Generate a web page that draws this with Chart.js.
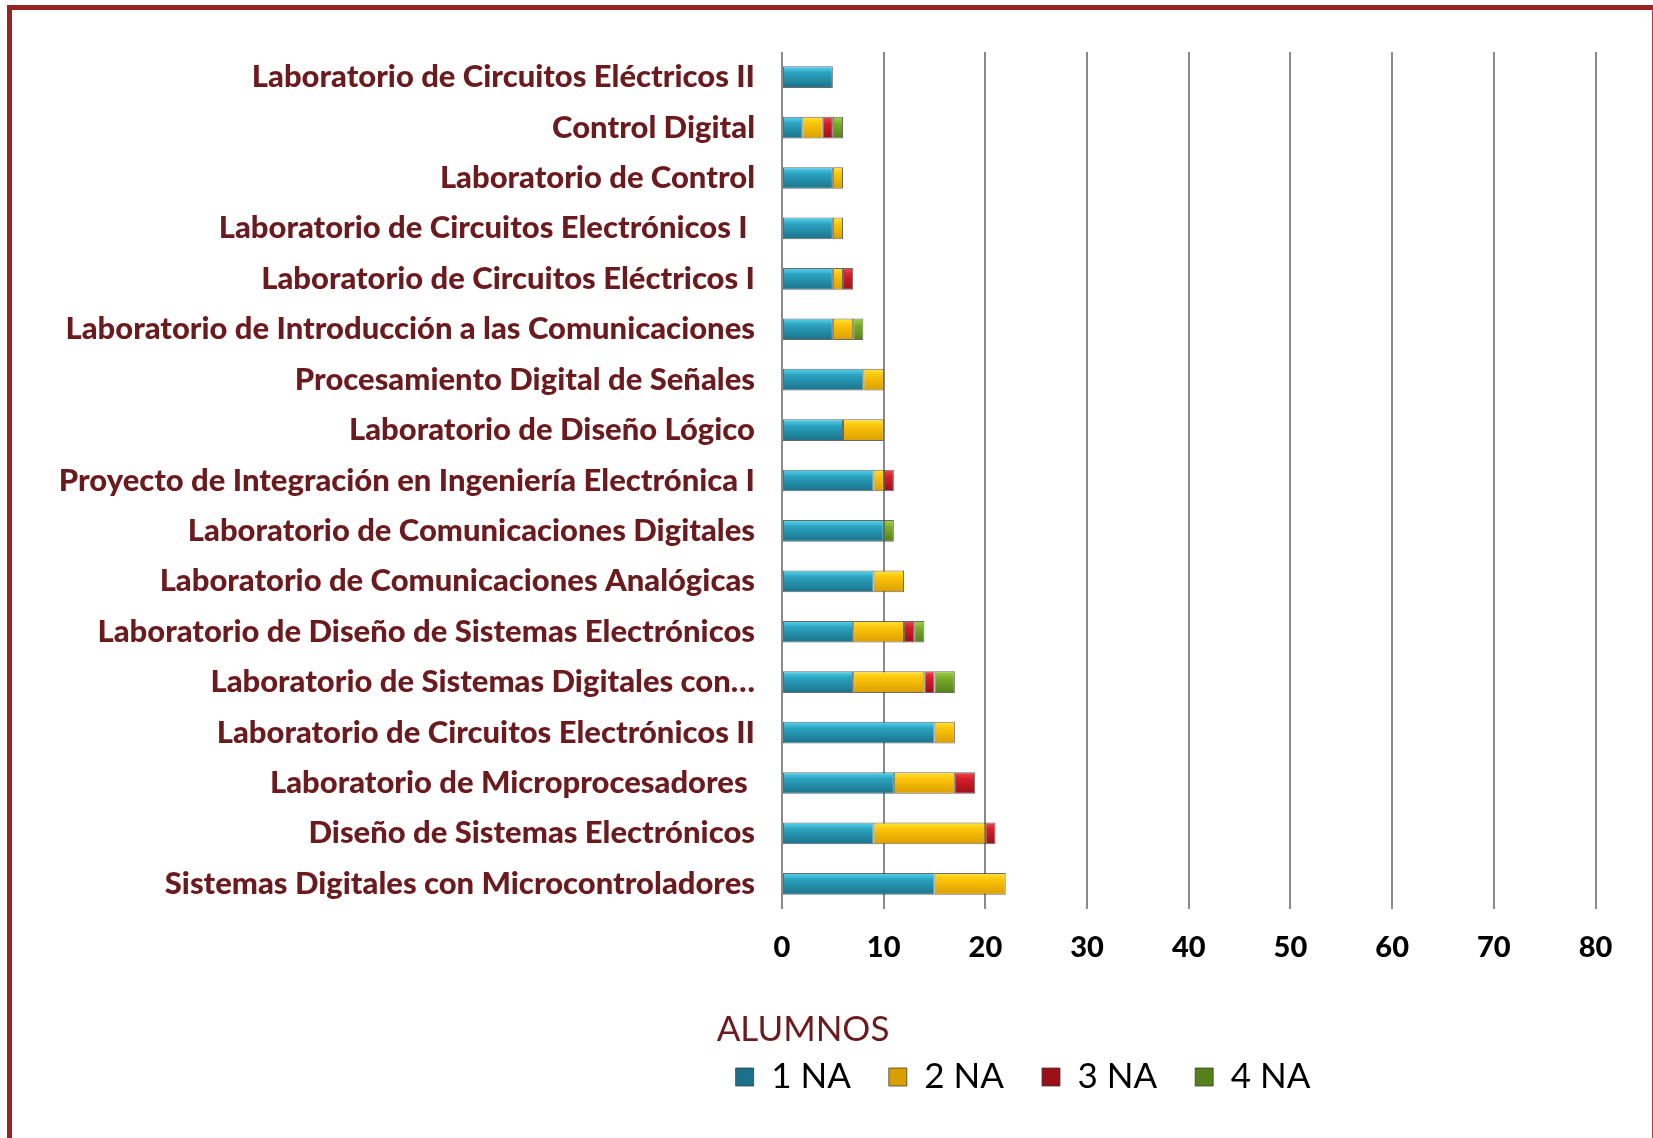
<!DOCTYPE html>
<html>
<head>
<meta charset="utf-8">
<script src="https://cdn.jsdelivr.net/npm/chart.js@4.4.0/dist/chart.umd.min.js"></script>
<style>
    html, body { margin: 0; padding: 0; background: #fff; overflow: hidden; }
    #frame {
        position: absolute; left: 7px; top: 5px;
        width: 1640px; height: 1200px;
        border-left: 5px solid #962427;
        border-top: 5px solid #962427;
        border-right: 1px solid #b33a3d;
    }
    #wrap { position: absolute; left: 0; top: 0; width: 1653px; height: 1138px; }
</style>
</head>
<body>
<div id="frame"></div>
<div id="wrap"><canvas id="alumnosChart" width="1653" height="1138"></canvas></div>
<script>
// Materias (top to bottom)
const materias = [
    'Laboratorio de Circuitos Eléctricos II',
    'Control Digital',
    'Laboratorio de Control',
    'Laboratorio de Circuitos Electrónicos I ',
    'Laboratorio de Circuitos Eléctricos I',
    'Laboratorio de Introducción a las Comunicaciones',
    'Procesamiento Digital de Señales',
    'Laboratorio de Diseño Lógico',
    'Proyecto de Integración en Ingeniería Electrónica I',
    'Laboratorio de Comunicaciones Digitales',
    'Laboratorio de Comunicaciones Analógicas',
    'Laboratorio de Diseño de Sistemas Electrónicos',
    'Laboratorio de Sistemas Digitales con…',
    'Laboratorio de Circuitos Electrónicos II',
    'Laboratorio de Microprocesadores ',
    'Diseño de Sistemas Electrónicos',
    'Sistemas Digitales con Microcontroladores'
];

// Alumnos por numero de NA
const na1 = [5, 2, 5, 5, 5, 5, 8, 6, 9, 10, 9, 7, 7, 15, 11, 9, 15];
const na2 = [0, 2, 1, 1, 1, 2, 2, 4, 1, 0, 3, 5, 7, 2, 6, 11, 7];
const na3 = [0, 1, 0, 0, 1, 0, 0, 0, 1, 0, 0, 1, 1, 0, 2, 1, 0];
const na4 = [0, 1, 0, 0, 0, 1, 0, 0, 0, 1, 0, 1, 2, 0, 0, 0, 0];

const seriesNames = ['1 NA', '2 NA', '3 NA', '4 NA'];
const xTicks = [0, 10, 20, 30, 40, 50, 60, 70, 80];

const MAROON = '#6b1a1e';
const BAR_PCT = 0.43;

Chart.defaults.font.family = 'Lato, "Open Sans", sans-serif';

// vertical gradient across each bar, like the bevelled office bars
function barFill(light, mid, dark) {
    return function (c) {
        const chart = c.chart;
        const y = chart.scales && chart.scales.y;
        if (!y || c.dataIndex === undefined || c.type !== 'data') return mid;
        const center = y.getPixelForValue(c.dataIndex);
        const h = (y.bottom - y.top) / materias.length * BAR_PCT;
        if (!isFinite(center) || !isFinite(h) || h <= 0) return mid;
        const g = chart.ctx.createLinearGradient(0, center - h / 2, 0, center + h / 2);
        g.addColorStop(0, light);
        g.addColorStop(0.3, mid);
        g.addColorStop(1, dark);
        return g;
    };
}

function serie(label, data, light, mid, dark) {
    return {
        label: label,
        data: data,
        backgroundColor: barFill(light, mid, dark),
        borderColor: 'rgba(55, 55, 55, 0.75)',
        borderWidth: 1,
        borderSkipped: false,
        barPercentage: BAR_PCT,
        categoryPercentage: 1
    };
}

// put the legend block where the original has it
const moveLegend = {
    id: 'moveLegend',
    afterLayout(chart) {
        const lg = chart.legend;
        const shift = 1023 - (lg.left + lg.right) / 2;
        lg.left += shift;
        lg.right += shift;
    }
};

const ctx = document.getElementById('alumnosChart').getContext('2d');
const alumnosChart = new Chart(ctx, {
    type: 'bar',
    data: {
        labels: materias,
        datasets: [
            serie(seriesNames[0], na1, '#5ad6f0', '#2aa3c0', '#1b7189'),
            serie(seriesNames[1], na2, '#ffe43c', '#fcc50a', '#d99e00'),
            serie(seriesNames[2], na3, '#f04a50', '#d41f2a', '#9c1019'),
            serie(seriesNames[3], na4, '#a6d448', '#7cae2a', '#55801a')
        ]
    },
    options: {
        indexAxis: 'y',
        responsive: false,
        animation: false,
        layout: {
            padding: { top: 52, left: 0, right: 57.5, bottom: 33.5 }
        },
        scales: {
            x: {
                stacked: true,
                min: 0,
                max: 80,
                afterBuildTicks(scale) {
                    scale.ticks = xTicks.map(v => ({ value: v }));
                },
                afterFit(scale) { scale.height = 103.5; },
                grid: { color: '#8a8a8a', lineWidth: 2, drawTicks: false },
                border: { display: false },
                ticks: {
                    color: '#000',
                    padding: 21,
                    font: { size: 29, weight: '900' }
                }
            },
            y: {
                stacked: true,
                afterFit(scale) { scale.width = 782; },
                grid: { display: false, drawTicks: false },
                border: { display: false },
                ticks: {
                    color: MAROON,
                    padding: 27,
                    autoSkip: false,
                    font: { size: 31, weight: '900' }
                }
            }
        },
        plugins: {
            tooltip: { enabled: false },
            legend: {
                position: 'bottom',
                title: {
                    display: true,
                    text: 'ALUMNOS',
                    position: 'start',
                    color: MAROON,
                    font: { size: 35, lineHeight: 1 },
                    padding: { top: 0, bottom: -26 }
                },
                labels: {
                    color: '#000',
                    boxWidth: 18,
                    boxHeight: 18,
                    padding: 38,
                    font: { size: 35 }
                }
            }
        }
    },
    plugins: [moveLegend]
});
</script>
</body>
</html>
